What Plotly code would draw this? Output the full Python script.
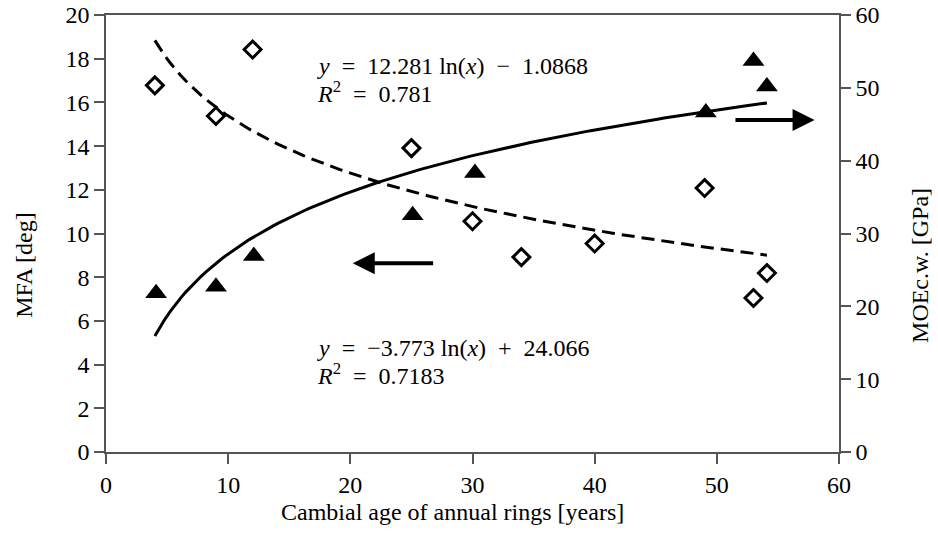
import numpy as np
import plotly.graph_objects as go

# Data
age_mfa = [4, 9, 12, 25, 30, 34, 40, 49, 53, 54.1]
mfa = [16.78, 15.38, 18.42, 13.91, 10.56, 8.92, 9.54, 12.08, 7.05, 8.19]

age_moe = [4.1, 9.0, 12.1, 25.1, 30.2, 49.1, 53.0, 54.1]
moe = [21.8, 22.7, 26.9, 32.5, 38.3, 46.6, 53.7, 50.2]

# Trendline coefficients (as printed on the chart)
moe_a, moe_b = 12.281, -1.0868
mfa_a, mfa_b = -3.773, 24.066
trend_x = np.linspace(4, 54.1, 120)

FONT = "Liberation Serif"
FS = 24
AX = "#555555"
SP = "\u2002"

fig = go.Figure()
fig.add_trace(go.Scatter(x=trend_x, y=mfa_a * np.log(trend_x) + mfa_b, mode="lines",
                         line=dict(color="black", width=3, dash="13px,7px"), yaxis="y"))
fig.add_trace(go.Scatter(x=trend_x, y=moe_a * np.log(trend_x) + moe_b, mode="lines",
                         line=dict(color="black", width=3), yaxis="y2"))
fig.add_trace(go.Scatter(x=age_mfa, y=mfa, mode="markers", yaxis="y",
                         marker=dict(symbol="diamond-open", size=13, color="black",
                                     line=dict(width=3, color="black"))))
fig.add_trace(go.Scatter(x=age_moe, y=moe, mode="markers", yaxis="y2",
                         marker=dict(symbol="triangle-up", size=19, color="black",
                                     line=dict(width=0))))

def txt(x, y, s):
    fig.add_annotation(x=x, y=y, xref="x", yref="y", xanchor="left", yanchor="middle",
                       align="left", valign="middle", showarrow=False, text=s, height=26,
                       font=dict(family=FONT, size=FS, color="black"))

txt(17.1, 17.66, f"<i>y</i>{SP}={SP}12.281 ln(<i>x</i>){SP}−{SP}1.0868")
txt(17.1, 16.47, f"<i>R</i><sup>2</sup>{SP}={SP}0.781")
txt(17.1, 4.78, f"<i>y</i>{SP}={SP}−3.773 ln(<i>x</i>){SP}+{SP}24.066")
txt(17.1, 3.59, f"<i>R</i><sup>2</sup>{SP}={SP}0.7183")

# Arrows
fig.add_annotation(x=20.2, y=8.64, ax=26.9, ay=8.64, xref="x", yref="y", axref="x", ayref="y",
                   showarrow=True, arrowhead=2, arrowsize=1.1, arrowwidth=4, arrowcolor="black", text="")
fig.add_annotation(x=58.0, y=45.6, ax=51.4, ay=45.6, xref="x", yref="y2", axref="x", ayref="y2",
                   showarrow=True, arrowhead=2, arrowsize=1.1, arrowwidth=4, arrowcolor="black", text="")

# Axis titles
fig.add_annotation(x=0.473, y=-0.137, xref="paper", yref="paper", showarrow=False,
                   xanchor="center", yanchor="middle",
                   text="Cambial age of annual rings [years]", font=dict(family=FONT, size=FS))
fig.add_annotation(x=-0.112, y=0.428, xref="paper", yref="paper", showarrow=False, textangle=-90,
                   xanchor="center", yanchor="middle",
                   text="MFA [deg]", font=dict(family=FONT, size=FS))
fig.add_annotation(x=1.1105, y=0.428, xref="paper", yref="paper", showarrow=False, textangle=-90,
                   xanchor="center", yanchor="middle",
                   text="MOEc.w. [GPa]", font=dict(family=FONT, size=FS))

axis_common = dict(showgrid=False, zeroline=False, showline=True, linecolor=AX, linewidth=1.5,
                   ticks="outside", ticklen=10, tickwidth=1.5, tickcolor=AX, automargin=False,
                   tickfont=dict(family=FONT, size=FS, color="black"))

fig.update_layout(
    width=938, height=533, showlegend=False,
    plot_bgcolor="white", paper_bgcolor="white",
    margin=dict(l=106, r=99, t=15, b=81),
    font=dict(family=FONT, size=FS, color="black"),
    xaxis=dict(range=[0, 60], dtick=10, mirror=True, **axis_common),
    yaxis=dict(range=[0, 20], dtick=2, **axis_common),
    yaxis2=dict(range=[0, 60], dtick=10, overlaying="y", side="right", **axis_common),
)

fig.write_html("out.html", config={"displayModeBar": False},
               post_script="document.body.style.margin='0';")
